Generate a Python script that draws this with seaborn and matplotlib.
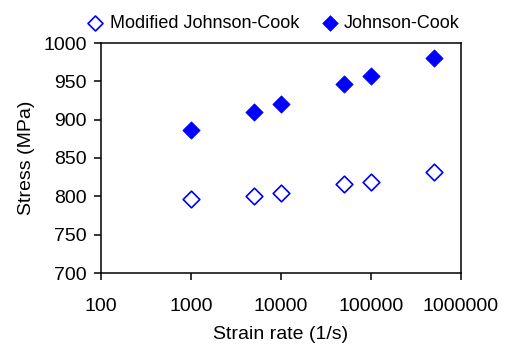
import matplotlib
matplotlib.use("Agg")
import matplotlib.pyplot as plt
import seaborn as sns
import pandas as pd
from matplotlib.ticker import FixedLocator, FixedFormatter, NullLocator

strain_rate = [1000, 5000, 10000, 50000, 100000, 500000]
modified_jc = [796, 801, 805, 816, 819, 832]
johnson_cook = [886, 910, 921, 946, 957, 980]
x_ticks = [100, 1000, 10000, 100000, 1000000]
x_tick_labels = ["100", "1000", "10000", "100000", "1000000"]
y_ticks = [700, 750, 800, 850, 900, 950, 1000]

sns.set_theme(style="ticks")
plt.rcParams['font.family'] = ['Liberation Sans', 'DejaVu Sans']

df_mod = pd.DataFrame({"rate": strain_rate, "stress": modified_jc})
df_jc = pd.DataFrame({"rate": strain_rate, "stress": johnson_cook})

fig = plt.figure(figsize=(5.12, 3.44), dpi=100)
ax = fig.add_axes([101/512, 1 - 273/344, 360/512, 230/344])

sns.scatterplot(data=df_mod, x="rate", y="stress", ax=ax, marker="D",
                s=72, facecolor="white", edgecolor="#0000ff", linewidth=1.2,
                label="Modified Johnson-Cook", zorder=3)
sns.scatterplot(data=df_jc, x="rate", y="stress", ax=ax, marker="D",
                s=78, color="#0000ff", edgecolor="#0000ff", linewidth=0.5,
                label="Johnson-Cook", zorder=3)

ax.set_xscale("log")
ax.set_xlim(100, 1000000)
ax.set_ylim(700, 1000)
ax.xaxis.set_major_locator(FixedLocator(x_ticks))
ax.xaxis.set_major_formatter(FixedFormatter(x_tick_labels))
ax.xaxis.set_minor_locator(NullLocator())
ax.set_yticks(y_ticks)

for sp in ax.spines.values():
    sp.set_visible(True)
    sp.set_color("black")
    sp.set_linewidth(1.1)

ax.tick_params(axis="both", direction="out", length=5, width=1.1, color="black",
               labelsize=14, labelcolor="black")
ax.tick_params(axis="x", pad=13)
ax.tick_params(axis="y", pad=5)
ax.set_xlabel("Strain rate (1/s)", fontsize=14, color="black", labelpad=8)
ax.set_ylabel("Stress (MPa)", fontsize=14, color="black", labelpad=6)

leg = ax.legend(loc="center", bbox_to_anchor=(273/512, 1 - 23/344),
                bbox_transform=fig.transFigure, ncol=2, frameon=False,
                fontsize=13, handlelength=1.0, handletextpad=0.3, columnspacing=1.2,
                borderaxespad=0, borderpad=0, markerscale=0.9)
for t in leg.get_texts():
    t.set_color("black")

fig.savefig("out.png", dpi=100)
